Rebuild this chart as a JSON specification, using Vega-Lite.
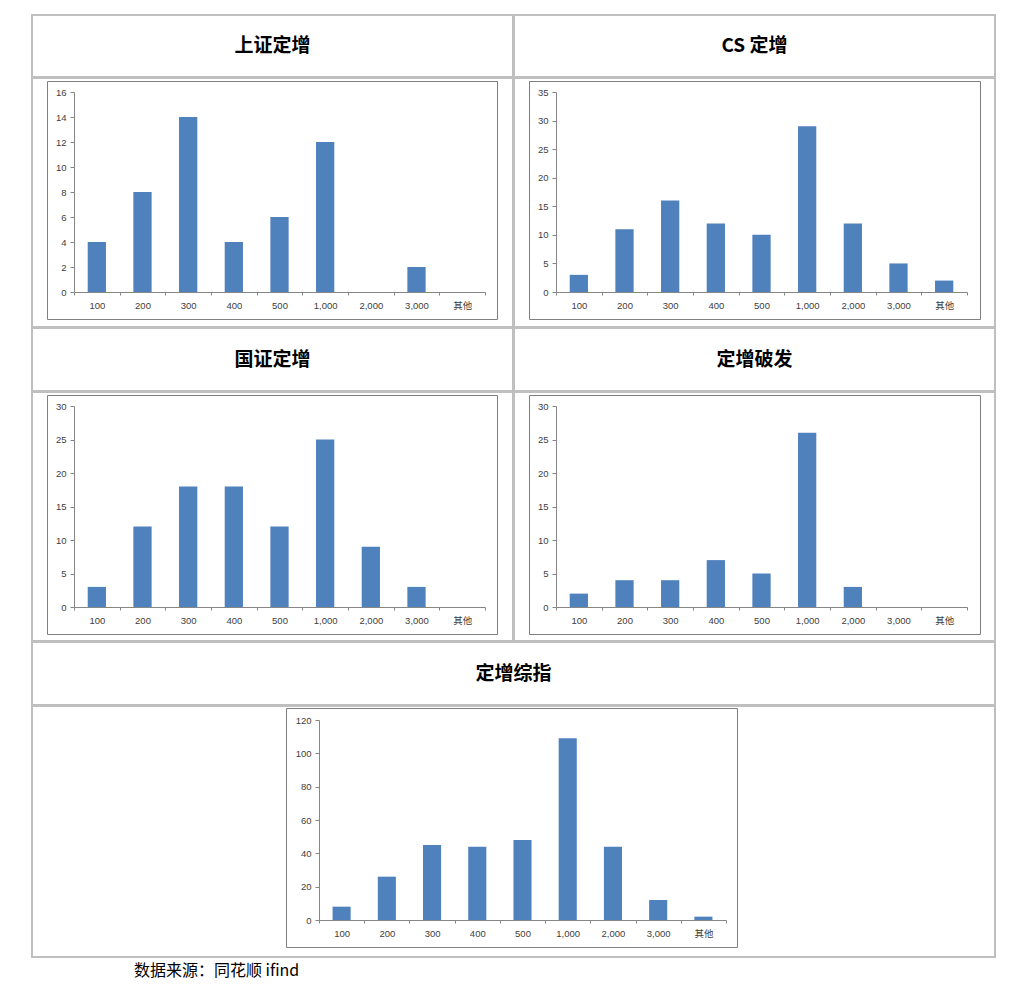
{
  "$schema": "https://vega.github.io/schema/vega-lite/v6.json",
  "background": "white",
  "padding": {"left": 31, "top": 14, "right": 0, "bottom": 12},
  "title": {
    "text": "数据来源：同花顺 ifind",
    "orient": "bottom",
    "anchor": "start",
    "dx": 103,
    "offset": 5,
    "font": "Noto Sans CJK SC",
    "fontSize": 16,
    "fontWeight": "normal",
    "color": "#000000"
  },
  "datasets": {
    "sz": [
      {"bin": "100", "count": 4}, {"bin": "200", "count": 8}, {"bin": "300", "count": 14},
      {"bin": "400", "count": 4}, {"bin": "500", "count": 6}, {"bin": "1,000", "count": 12},
      {"bin": "2,000", "count": 0}, {"bin": "3,000", "count": 2}, {"bin": "其他", "count": 0}
    ],
    "cs": [
      {"bin": "100", "count": 3}, {"bin": "200", "count": 11}, {"bin": "300", "count": 16},
      {"bin": "400", "count": 12}, {"bin": "500", "count": 10}, {"bin": "1,000", "count": 29},
      {"bin": "2,000", "count": 12}, {"bin": "3,000", "count": 5}, {"bin": "其他", "count": 2}
    ],
    "gz": [
      {"bin": "100", "count": 3}, {"bin": "200", "count": 12}, {"bin": "300", "count": 18},
      {"bin": "400", "count": 18}, {"bin": "500", "count": 12}, {"bin": "1,000", "count": 25},
      {"bin": "2,000", "count": 9}, {"bin": "3,000", "count": 3}, {"bin": "其他", "count": 0}
    ],
    "pf": [
      {"bin": "100", "count": 2}, {"bin": "200", "count": 4}, {"bin": "300", "count": 4},
      {"bin": "400", "count": 7}, {"bin": "500", "count": 5}, {"bin": "1,000", "count": 26},
      {"bin": "2,000", "count": 3}, {"bin": "3,000", "count": 0}, {"bin": "其他", "count": 0}
    ],
    "zz": [
      {"bin": "100", "count": 8}, {"bin": "200", "count": 26}, {"bin": "300", "count": 45},
      {"bin": "400", "count": 44}, {"bin": "500", "count": 48}, {"bin": "1,000", "count": 109},
      {"bin": "2,000", "count": 44}, {"bin": "3,000", "count": 12}, {"bin": "其他", "count": 2}
    ]
  },
  "spacing": -2,
  "vconcat": [
    {
      "spacing": -2,
      "hconcat": [
        {
          "width": 481, "height": 62,
          "data": {"values": [{"name": "上证定增"}]},
          "mark": {"type": "text", "font": "Noto Sans CJK SC", "fontSize": 19, "fontWeight": "bold", "color": "#000000"},
          "encoding": {
            "x": {"field": "name", "type": "nominal", "axis": null},
            "y": {"field": "name", "type": "nominal", "axis": null},
            "text": {"field": "name"}
          }
        },
        {
          "width": 481, "height": 62,
          "data": {"values": [{"name": "CS 定增"}]},
          "mark": {"type": "text", "font": "Noto Sans CJK SC", "fontSize": 19, "fontWeight": "bold", "color": "#000000"},
          "encoding": {
            "x": {"field": "name", "type": "nominal", "axis": null},
            "y": {"field": "name", "type": "nominal", "axis": null},
            "text": {"field": "name"}
          }
        }
      ]
    },
    {
      "spacing": -2,
      "hconcat": [
        {
          "width": 481, "height": 249,
          "layer": [
            {
              "data": {"name": "sz"},
              "mark": {"type": "bar", "color": "#4f81bd", "width": {"band": 0.4}},
              "encoding": {
                "x": {"field": "bin", "type": "ordinal",
                  "scale": {"domain": ["100", "200", "300", "400", "500", "1,000", "2,000", "3,000", "其他"], "range": [42, 453], "paddingInner": 0, "paddingOuter": 0},
                  "axis": {"orient": "bottom", "offset": -35, "tickBand": "extent", "labelAngle": 0, "tickSize": 3, "labelPadding": 5}},
                "y": {"field": "count", "type": "quantitative",
                  "scale": {"domain": [0, 16], "range": [214, 14], "nice": false},
                  "axis": {"orient": "left", "offset": -42, "values": [0, 2, 4, 6, 8, 10, 12, 14, 16]}}
              }
            },
            {
              "data": {"values": [{}]},
              "mark": {"type": "point", "opacity": 0},
              "encoding": {
                "x": {"datum": 0, "type": "quantitative", "scale": {"domain": [0, 1], "range": [15, 465]},
                  "axis": {"orient": "top", "offset": -3, "ticks": false, "labels": false, "domainColor": "#7f7f7f"}},
                "y": {"datum": 0, "type": "quantitative", "scale": {"domain": [0, 1], "range": [241, 3]},
                  "axis": {"orient": "left", "offset": -15, "ticks": false, "labels": false, "domainColor": "#7f7f7f"}}
              }
            },
            {
              "data": {"values": [{}]},
              "mark": {"type": "point", "opacity": 0},
              "encoding": {
                "x": {"datum": 0, "type": "quantitative", "scale": {"domain": [0, 1], "range": [15, 465]},
                  "axis": {"orient": "bottom", "offset": -8, "ticks": false, "labels": false, "domainColor": "#7f7f7f"}},
                "y": {"datum": 0, "type": "quantitative", "scale": {"domain": [0, 1], "range": [241, 3]},
                  "axis": {"orient": "right", "offset": -16, "ticks": false, "labels": false, "domainColor": "#7f7f7f"}}
              }
            }
          ],
          "resolve": {"scale": {"x": "independent", "y": "independent"}}
        },
        {
          "width": 481, "height": 249,
          "layer": [
            {
              "data": {"name": "cs"},
              "mark": {"type": "bar", "color": "#4f81bd", "width": {"band": 0.4}},
              "encoding": {
                "x": {"field": "bin", "type": "ordinal",
                  "scale": {"domain": ["100", "200", "300", "400", "500", "1,000", "2,000", "3,000", "其他"], "range": [42, 453], "paddingInner": 0, "paddingOuter": 0},
                  "axis": {"orient": "bottom", "offset": -35, "tickBand": "extent", "labelAngle": 0, "tickSize": 3, "labelPadding": 5}},
                "y": {"field": "count", "type": "quantitative",
                  "scale": {"domain": [0, 35], "range": [214, 14], "nice": false},
                  "axis": {"orient": "left", "offset": -42, "values": [0, 5, 10, 15, 20, 25, 30, 35]}}
              }
            },
            {
              "data": {"values": [{}]},
              "mark": {"type": "point", "opacity": 0},
              "encoding": {
                "x": {"datum": 0, "type": "quantitative", "scale": {"domain": [0, 1], "range": [15, 466]},
                  "axis": {"orient": "top", "offset": -3, "ticks": false, "labels": false, "domainColor": "#7f7f7f"}},
                "y": {"datum": 0, "type": "quantitative", "scale": {"domain": [0, 1], "range": [241, 3]},
                  "axis": {"orient": "left", "offset": -15, "ticks": false, "labels": false, "domainColor": "#7f7f7f"}}
              }
            },
            {
              "data": {"values": [{}]},
              "mark": {"type": "point", "opacity": 0},
              "encoding": {
                "x": {"datum": 0, "type": "quantitative", "scale": {"domain": [0, 1], "range": [15, 466]},
                  "axis": {"orient": "bottom", "offset": -8, "ticks": false, "labels": false, "domainColor": "#7f7f7f"}},
                "y": {"datum": 0, "type": "quantitative", "scale": {"domain": [0, 1], "range": [241, 3]},
                  "axis": {"orient": "right", "offset": -15, "ticks": false, "labels": false, "domainColor": "#7f7f7f"}}
              }
            }
          ],
          "resolve": {"scale": {"x": "independent", "y": "independent"}}
        }
      ]
    },
    {
      "spacing": -2,
      "hconcat": [
        {
          "width": 481, "height": 63,
          "data": {"values": [{"name": "国证定增"}]},
          "mark": {"type": "text", "font": "Noto Sans CJK SC", "fontSize": 19, "fontWeight": "bold", "color": "#000000"},
          "encoding": {
            "x": {"field": "name", "type": "nominal", "axis": null},
            "y": {"field": "name", "type": "nominal", "axis": null},
            "text": {"field": "name"}
          }
        },
        {
          "width": 481, "height": 63,
          "data": {"values": [{"name": "定增破发"}]},
          "mark": {"type": "text", "font": "Noto Sans CJK SC", "fontSize": 19, "fontWeight": "bold", "color": "#000000"},
          "encoding": {
            "x": {"field": "name", "type": "nominal", "axis": null},
            "y": {"field": "name", "type": "nominal", "axis": null},
            "text": {"field": "name"}
          }
        }
      ]
    },
    {
      "spacing": -2,
      "hconcat": [
        {
          "width": 481, "height": 249,
          "layer": [
            {
              "data": {"name": "gz"},
              "mark": {"type": "bar", "color": "#4f81bd", "width": {"band": 0.4}},
              "encoding": {
                "x": {"field": "bin", "type": "ordinal",
                  "scale": {"domain": ["100", "200", "300", "400", "500", "1,000", "2,000", "3,000", "其他"], "range": [42, 453], "paddingInner": 0, "paddingOuter": 0},
                  "axis": {"orient": "bottom", "offset": -34, "tickBand": "extent", "labelAngle": 0, "tickSize": 3, "labelPadding": 5}},
                "y": {"field": "count", "type": "quantitative",
                  "scale": {"domain": [0, 30], "range": [215, 14], "nice": false},
                  "axis": {"orient": "left", "offset": -42, "values": [0, 5, 10, 15, 20, 25, 30]}}
              }
            },
            {
              "data": {"values": [{}]},
              "mark": {"type": "point", "opacity": 0},
              "encoding": {
                "x": {"datum": 0, "type": "quantitative", "scale": {"domain": [0, 1], "range": [15, 465]},
                  "axis": {"orient": "top", "offset": -3, "ticks": false, "labels": false, "domainColor": "#7f7f7f"}},
                "y": {"datum": 0, "type": "quantitative", "scale": {"domain": [0, 1], "range": [242, 3]},
                  "axis": {"orient": "left", "offset": -15, "ticks": false, "labels": false, "domainColor": "#7f7f7f"}}
              }
            },
            {
              "data": {"values": [{}]},
              "mark": {"type": "point", "opacity": 0},
              "encoding": {
                "x": {"datum": 0, "type": "quantitative", "scale": {"domain": [0, 1], "range": [15, 465]},
                  "axis": {"orient": "bottom", "offset": -7, "ticks": false, "labels": false, "domainColor": "#7f7f7f"}},
                "y": {"datum": 0, "type": "quantitative", "scale": {"domain": [0, 1], "range": [242, 3]},
                  "axis": {"orient": "right", "offset": -16, "ticks": false, "labels": false, "domainColor": "#7f7f7f"}}
              }
            }
          ],
          "resolve": {"scale": {"x": "independent", "y": "independent"}}
        },
        {
          "width": 481, "height": 249,
          "layer": [
            {
              "data": {"name": "pf"},
              "mark": {"type": "bar", "color": "#4f81bd", "width": {"band": 0.4}},
              "encoding": {
                "x": {"field": "bin", "type": "ordinal",
                  "scale": {"domain": ["100", "200", "300", "400", "500", "1,000", "2,000", "3,000", "其他"], "range": [42, 453], "paddingInner": 0, "paddingOuter": 0},
                  "axis": {"orient": "bottom", "offset": -34, "tickBand": "extent", "labelAngle": 0, "tickSize": 3, "labelPadding": 5}},
                "y": {"field": "count", "type": "quantitative",
                  "scale": {"domain": [0, 30], "range": [215, 14], "nice": false},
                  "axis": {"orient": "left", "offset": -42, "values": [0, 5, 10, 15, 20, 25, 30]}}
              }
            },
            {
              "data": {"values": [{}]},
              "mark": {"type": "point", "opacity": 0},
              "encoding": {
                "x": {"datum": 0, "type": "quantitative", "scale": {"domain": [0, 1], "range": [15, 466]},
                  "axis": {"orient": "top", "offset": -3, "ticks": false, "labels": false, "domainColor": "#7f7f7f"}},
                "y": {"datum": 0, "type": "quantitative", "scale": {"domain": [0, 1], "range": [242, 3]},
                  "axis": {"orient": "left", "offset": -15, "ticks": false, "labels": false, "domainColor": "#7f7f7f"}}
              }
            },
            {
              "data": {"values": [{}]},
              "mark": {"type": "point", "opacity": 0},
              "encoding": {
                "x": {"datum": 0, "type": "quantitative", "scale": {"domain": [0, 1], "range": [15, 466]},
                  "axis": {"orient": "bottom", "offset": -7, "ticks": false, "labels": false, "domainColor": "#7f7f7f"}},
                "y": {"datum": 0, "type": "quantitative", "scale": {"domain": [0, 1], "range": [242, 3]},
                  "axis": {"orient": "right", "offset": -15, "ticks": false, "labels": false, "domainColor": "#7f7f7f"}}
              }
            }
          ],
          "resolve": {"scale": {"x": "independent", "y": "independent"}}
        }
      ]
    },
    {
      "width": 963, "height": 63,
      "data": {"values": [{"name": "定增综指"}]},
      "mark": {"type": "text", "font": "Noto Sans CJK SC", "fontSize": 19, "fontWeight": "bold", "color": "#000000"},
      "encoding": {
        "x": {"field": "name", "type": "nominal", "axis": null},
        "y": {"field": "name", "type": "nominal", "axis": null},
        "text": {"field": "name"}
      }
    },
    {
      "width": 963, "height": 251,
      "layer": [
        {
          "data": {"name": "zz"},
          "mark": {"type": "bar", "color": "#4f81bd", "width": {"band": 0.4}},
          "encoding": {
            "x": {"field": "bin", "type": "ordinal",
              "scale": {"domain": ["100", "200", "300", "400", "500", "1,000", "2,000", "3,000", "其他"], "range": [287, 694], "paddingInner": 0, "paddingOuter": 0},
              "axis": {"orient": "bottom", "offset": -37, "tickBand": "extent", "labelAngle": 0, "tickSize": 3, "labelPadding": 5}},
            "y": {"field": "count", "type": "quantitative",
              "scale": {"domain": [0, 120], "range": [214, 14], "nice": false},
              "axis": {"orient": "left", "offset": -287, "values": [0, 20, 40, 60, 80, 100, 120]}}
          }
        },
        {
          "data": {"values": [{}]},
          "mark": {"type": "point", "opacity": 0},
          "encoding": {
            "x": {"datum": 0, "type": "quantitative", "scale": {"domain": [0, 1], "range": [254, 705]},
              "axis": {"orient": "top", "offset": -2, "ticks": false, "labels": false, "domainColor": "#7f7f7f"}},
            "y": {"datum": 0, "type": "quantitative", "scale": {"domain": [0, 1], "range": [241, 2]},
              "axis": {"orient": "left", "offset": -254, "ticks": false, "labels": false, "domainColor": "#7f7f7f"}}
          }
        },
        {
          "data": {"values": [{}]},
          "mark": {"type": "point", "opacity": 0},
          "encoding": {
            "x": {"datum": 0, "type": "quantitative", "scale": {"domain": [0, 1], "range": [254, 705]},
              "axis": {"orient": "bottom", "offset": -10, "ticks": false, "labels": false, "domainColor": "#7f7f7f"}},
            "y": {"datum": 0, "type": "quantitative", "scale": {"domain": [0, 1], "range": [241, 2]},
              "axis": {"orient": "right", "offset": -258, "ticks": false, "labels": false, "domainColor": "#7f7f7f"}}
          }
        }
      ],
      "resolve": {"scale": {"x": "independent", "y": "independent"}}
    }
  ],
  "config": {
    "view": {"stroke": "#bfbfbf", "strokeWidth": 2},
    "axis": {
      "title": null,
      "grid": false,
      "labelFont": "Liberation Sans, Noto Sans CJK SC",
      "labelFontSize": 9.5,
      "labelColor": "#404040",
      "domainColor": "#868686",
      "tickColor": "#868686",
      "tickSize": 4,
      "labelPadding": 4
    }
  }
}
